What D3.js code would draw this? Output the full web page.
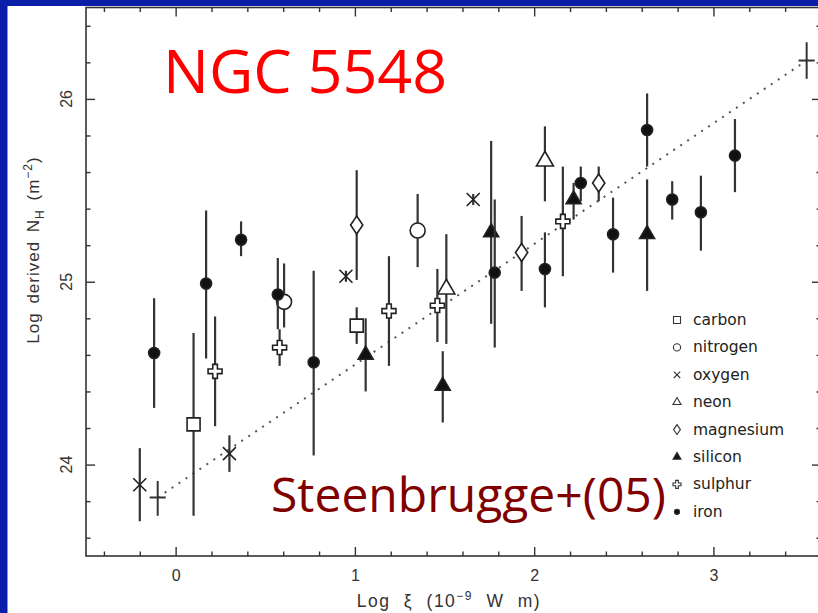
<!DOCTYPE html>
<html>
<head>
<meta charset="utf-8">
<script src="https://cdn.jsdelivr.net/npm/d3@7"></script>
<style>
  html, body { margin: 0; padding: 0; background: #0b1ea8; }
  svg { display: block; }
</style>
</head>
<body>
<svg id="chart" width="818" height="613"></svg>
<script>
// Column densities per ion species: [log xi, log NH, lower, upper]
const carbon = [[0.10, 24.22, 23.72, 24.72], [1.01, 24.76, 24.66, 24.86]];
const nitrogen = [[0.605, 24.89, 24.75, 25.10], [1.35, 25.28, 25.08, 25.48]];
const oxygen = [[-0.20, 23.89, 23.69, 24.09], [0.30, 24.06, 23.96, 24.16],
                [0.95, 25.03, 25.00, 25.06], [1.66, 25.45, 25.42, 25.48]];
const neon = [[1.51, 24.96, 24.66, 25.26], [2.06, 25.66, 25.44, 25.85]];
const magnesium = [[1.01, 25.31, 25.01, 25.61], [1.93, 25.16, 24.95, 25.36], [2.36, 25.54, 25.44, 25.63]];
const silicon = [[1.06, 24.60, 24.40, 24.80], [1.49, 24.43, 24.23, 24.62], [1.76, 25.27, 24.77, 25.77],
                 [2.22, 25.45, 25.34, 25.54], [2.63, 25.26, 24.95, 25.56]];
const sulphur = [[0.22, 24.51, 24.21, 24.81], [0.58, 24.64, 24.54, 24.74], [1.19, 24.84, 24.54, 25.14],
                 [1.46, 24.87, 24.67, 25.07], [2.16, 25.33, 25.03, 25.63]];
const iron = [[-0.12, 24.61, 24.31, 24.91], [0.17, 24.99, 24.58, 25.39], [0.365, 25.23, 25.14, 25.33],
              [0.57, 24.93, 24.74, 25.13], [0.77, 24.56, 24.05, 25.06], [1.78, 25.05, 24.64, 25.45],
              [2.06, 25.07, 24.86, 25.27], [2.26, 25.54, 25.44, 25.63], [2.44, 25.26, 25.05, 25.46],
              [2.63, 25.83, 25.63, 26.03], [2.77, 25.45, 25.34, 25.55], [2.93, 25.38, 25.17, 25.58],
              [3.12, 25.69, 25.49, 25.89]];
// Ends of the linear relation: [log xi, log NH, lower, upper, xi half-width]
const relationEnds = [[-0.10, 23.82, 23.72, 23.91, 0.045], [3.52, 26.21, 26.11, 26.31, 0.045]];

const xDomain = [-0.5, 3.6];
const yDomain = [23.5, 26.5];
const xMajor = [0, 1, 2, 3];
const yMajor = [24, 25, 26];
const legendNames = ["carbon", "nitrogen", "oxygen", "neon", "magnesium", "silicon", "sulphur", "iron"];

const series = { carbon, nitrogen, oxygen, neon, magnesium, silicon, sulphur, iron };

// Marker look for each species: kind, size in plot and in legend, fill
const markerStyle = {
  carbon:    { kind: "square",   size: 13, lsize: 7, fill: "#fff" },
  nitrogen:  { kind: "circle",   size: 7.5, lsize: 3.6, fill: "#fff" },
  oxygen:    { kind: "times",    size: 6.5, lsize: 3.2, fill: "none" },
  neon:      { kind: "triangle", size: 17, lsize: 8, fill: "#fff" },
  magnesium: { kind: "diamond",  size: 18, lsize: 10, fill: "#fff" },
  silicon:   { kind: "triangle", size: 15, lsize: 8, fill: "#111" },
  sulphur:   { kind: "cross",    size: 14, lsize: 8, fill: "#fff" },
  iron:      { kind: "circle",   size: 5.5, lsize: 2.6, fill: "#111" }
};

const svg = d3.select("#chart");
const W = 818, H = 613;

svg.append("rect").attr("x", 0).attr("y", 0).attr("width", W).attr("height", H).attr("fill", "#0b1ea8");
svg.append("rect").attr("x", 7.5).attr("y", 6).attr("width", W - 7.5).attr("height", H - 6).attr("fill", "#ffffff");

const pLeft = 86, pRight = 821, pTop = 7.5, pBottom = 556;
const x = d3.scaleLinear().domain(xDomain).range([pLeft, pRight]);
const y = d3.scaleLinear().domain(yDomain).range([pBottom, pTop]);

const axisColor = "#333";
const minorX = d3.range(-0.4, 3.61, 0.2).map(v => +v.toFixed(1)).filter(v => !xMajor.includes(v));
const minorY = d3.range(23.6, 26.41, 0.2).map(v => +v.toFixed(1)).filter(v => !yMajor.includes(v));

function styleAxis(g) {
  g.select(".domain").remove();
  g.selectAll(".tick line").attr("stroke", axisColor).attr("stroke-width", 1.4);
}

const axes = svg.append("g");
// inward ticks on all four sides
axes.append("g").attr("transform", `translate(0,${pBottom})`)
  .call(d3.axisBottom(x).tickValues(minorX).tickSizeInner(-4.5).tickSizeOuter(0).tickFormat("")).call(styleAxis);
axes.append("g").attr("transform", `translate(0,${pBottom})`)
  .call(d3.axisBottom(x).tickValues(xMajor).tickSizeInner(-9).tickSizeOuter(0).tickPadding(15).tickFormat(d3.format("d")))
  .call(styleAxis)
  .call(g => g.selectAll("text").attr("y", 25).attr("dy", 0).attr("fill", "#333")
    .style("font-family", "'Liberation Sans', Arial, sans-serif").style("font-size", "16px"));
axes.append("g").attr("transform", `translate(0,${pTop})`)
  .call(d3.axisTop(x).tickValues(minorX).tickSizeInner(-4.5).tickSizeOuter(0).tickFormat("")).call(styleAxis);
axes.append("g").attr("transform", `translate(0,${pTop})`)
  .call(d3.axisTop(x).tickValues(xMajor).tickSizeInner(-9).tickSizeOuter(0).tickFormat("")).call(styleAxis);
axes.append("g").attr("transform", `translate(${pLeft},0)`)
  .call(d3.axisLeft(y).tickValues(minorY).tickSizeInner(-4.5).tickSizeOuter(0).tickFormat("")).call(styleAxis);
axes.append("g").attr("transform", `translate(${pLeft},0)`)
  .call(d3.axisLeft(y).tickValues(yMajor).tickSizeInner(-9).tickSizeOuter(0).tickFormat("")).call(styleAxis);
axes.append("g").attr("transform", `translate(${pRight},0)`)
  .call(d3.axisRight(y).tickValues(minorY).tickSizeInner(-4.5).tickSizeOuter(0).tickFormat("")).call(styleAxis);
axes.append("g").attr("transform", `translate(${pRight},0)`)
  .call(d3.axisRight(y).tickValues(yMajor).tickSizeInner(-9).tickSizeOuter(0).tickFormat("")).call(styleAxis);

// rotated y tick labels
axes.selectAll("text.ylab").data(yMajor).join("text").attr("class", "ylab")
  .attr("transform", d => `translate(72,${y(d)}) rotate(-90)`)
  .attr("text-anchor", "middle").attr("fill", "#333")
  .style("font-family", "'Liberation Sans', Arial, sans-serif").style("font-size", "16px")
  .text(d => d);

// frame
svg.append("rect").attr("x", pLeft).attr("y", pTop).attr("width", pRight - pLeft).attr("height", pBottom - pTop)
  .attr("fill", "none").attr("stroke", axisColor).attr("stroke-width", 1.6);

// axis titles
const xt = svg.append("text").attr("x", 449).attr("y", 607).attr("text-anchor", "middle").attr("fill", "#333")
  .style("font-family", "'Liberation Sans', Arial, sans-serif").style("font-size", "17.5px")
  .style("letter-spacing", "1.5px").style("word-spacing", "7px");
xt.append("tspan").text("Log ξ (10");
xt.append("tspan").attr("dy", -7).style("font-size", "12px").text("−9");
xt.append("tspan").attr("dy", 7).text(" W m)");

const yt = svg.append("text").attr("transform", "translate(39,250) rotate(-90)").attr("text-anchor", "middle").attr("fill", "#333")
  .style("font-family", "'Liberation Sans', Arial, sans-serif").style("font-size", "17px")
  .style("letter-spacing", "1px").style("word-spacing", "3px");
yt.append("tspan").text("Log derived N");
yt.append("tspan").attr("dy", 5).style("font-size", "12px").text("H");
yt.append("tspan").attr("dy", -5).text(" (m");
yt.append("tspan").attr("dy", -7).style("font-size", "12px").text("−2");
yt.append("tspan").attr("dy", 7).text(")");

// marker drawing
function markerPath(kind, s) {
  switch (kind) {
    case "square": return d3.symbol(d3.symbolSquare, s * s)();
    case "circle": return d3.symbol(d3.symbolCircle, Math.PI * s * s)();
    case "triangle": return d3.symbol(d3.symbolTriangle, Math.sqrt(3) / 4 * s * s)();
    case "diamond": { const h = s / 2, w = s * 0.34; return `M0,${-h}L${w},0L0,${h}L${-w},0Z`; }
    case "cross": { const r = s / 6; return d3.symbol(d3.symbolCross, 5 * (2 * r) * (2 * r))(); }
    case "times": return `M${-s},${-s}L${s},${s}M${-s},${s}L${s},${-s}`;
  }
}

const plot = svg.append("g");

// dotted relation line
plot.append("line")
  .attr("x1", x(relationEnds[0][0])).attr("y1", y(relationEnds[0][1]))
  .attr("x2", x(relationEnds[1][0])).attr("y2", y(relationEnds[1][1]))
  .attr("stroke", "#555").attr("stroke-width", 2).attr("stroke-dasharray", "2,6.4");

// relation end crosses
relationEnds.forEach(d => {
  plot.append("line").attr("x1", x(d[0])).attr("x2", x(d[0])).attr("y1", y(d[2])).attr("y2", y(d[3]))
    .attr("stroke", "#333").attr("stroke-width", 2);
  plot.append("line").attr("x1", x(d[0] - d[4])).attr("x2", x(d[0] + d[4])).attr("y1", y(d[1])).attr("y2", y(d[1]))
    .attr("stroke", "#333").attr("stroke-width", 2);
});

legendNames.forEach(name => {
  const st = markerStyle[name];
  const pts = series[name];
  const g = plot.append("g");
  g.selectAll("line.err").data(pts).join("line").attr("class", "err")
    .attr("x1", d => x(d[0])).attr("x2", d => x(d[0]))
    .attr("y1", d => y(d[2])).attr("y2", d => y(d[3]))
    .attr("stroke", "#333").attr("stroke-width", 2.2);
  g.selectAll("path.mk").data(pts).join("path").attr("class", "mk")
    .attr("transform", d => `translate(${x(d[0])},${y(d[1])})`)
    .attr("d", markerPath(st.kind, st.size))
    .attr("fill", st.fill).attr("stroke", "#222").attr("stroke-width", 1.6);
});

// legend
const lg = svg.append("g");
legendNames.forEach((name, i) => {
  const st = markerStyle[name];
  const ly = 320 + i * 27.4;
  lg.append("path").attr("transform", `translate(677,${ly})`)
    .attr("d", markerPath(st.kind, st.lsize))
    .attr("fill", st.fill).attr("stroke", "#333").attr("stroke-width", 1.1);
  lg.append("text").attr("x", 693).attr("y", ly + 5).attr("fill", "#222")
    .style("font-family", "'DejaVu Sans', sans-serif").style("font-size", "15.5px")
    .text(name);
});

// annotations
svg.append("text").attr("x", 163).attr("y", 93).attr("fill", "#ff0000")
  .style("font-family", "'Open Sans', sans-serif").style("font-size", "61px").text("NGC 5548");
svg.append("text").attr("x", 271).attr("y", 512).attr("fill", "#800000")
  .style("font-family", "'Open Sans', sans-serif").style("font-size", "48px").text("Steenbrugge+(05)");
</script>
</body>
</html>
